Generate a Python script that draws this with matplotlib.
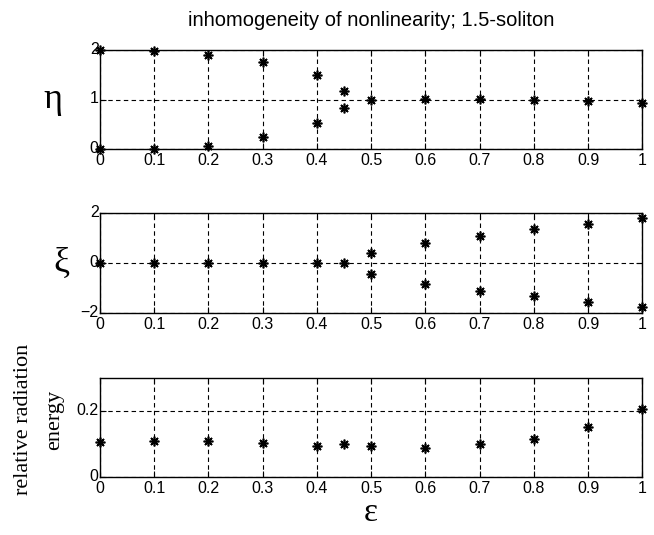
import numpy as np
import matplotlib
matplotlib.use("Agg")
import matplotlib.pyplot as plt
import matplotlib.transforms as mtransforms

# epsilon values (x axis), 0.45 is an extra point
eps = [0, 0.1, 0.2, 0.3, 0.4, 0.45, 0.5, 0.6, 0.7, 0.8, 0.9, 1.0]

# eta: two branches below eps=0.5, then one
eta_eps_split = [0, 0.1, 0.2, 0.3, 0.4, 0.45]
eta_upper = [2.0, 1.98, 1.90, 1.75, 1.49, 1.17]
eta_lower = [0.0, 0.01, 0.07, 0.24, 0.52, 0.83]
eta_eps_single = [0.5, 0.6, 0.7, 0.8, 0.9, 1.0]
eta_single = [1.00, 1.02, 1.02, 0.99, 0.96, 0.92]

# xi: zero up to 0.45, then splits
xi_eps_zero = [0, 0.1, 0.2, 0.3, 0.4, 0.45]
xi_zero = [0, 0, 0, 0, 0, 0]
xi_eps_split = [0.5, 0.6, 0.7, 0.8, 0.9, 1.0]
xi_upper = [0.41, 0.79, 1.08, 1.35, 1.55, 1.81]
xi_lower = [-0.44, -0.84, -1.11, -1.31, -1.55, -1.77]

# relative radiation energy
rad = [0.107, 0.109, 0.109, 0.104, 0.095, 0.102, 0.096, 0.088, 0.100, 0.117, 0.152, 0.206]

xticks = [0, 0.1, 0.2, 0.3, 0.4, 0.5, 0.6, 0.7, 0.8, 0.9, 1]
xticklabels = ["0", "0.1", "0.2", "0.3", "0.4", "0.5", "0.6", "0.7", "0.8", "0.9", "1"]

plt.rcParams["font.family"] = ["Liberation Sans", "DejaVu Sans"]
serif = ["Liberation Serif", "DejaVu Serif"]

fig = plt.figure(figsize=(6.54, 5.35), dpi=100)
left, width = 0.153, 0.829
ax1 = fig.add_axes([left, 0.7215, width, 0.185])
ax2 = fig.add_axes([left, 0.415, width, 0.187])
ax3 = fig.add_axes([left, 0.108, width, 0.185])

mk = dict(marker=(8, 2, 0), linestyle="none", color="black", markersize=7,
          markeredgewidth=1.2, clip_on=False, zorder=5)


def style(ax, ylim, yticks, yticklabels):
    ax.set_xlim(0, 1)
    ax.set_ylim(*ylim)
    ax.set_xticks(xticks)
    ax.set_xticklabels(xticklabels)
    ax.set_yticks(yticks)
    ax.set_yticklabels(yticklabels)
    ax.tick_params(direction="in", length=4, width=0.8, top=True, right=True,
                   labelsize=11.5, colors="black")
    ax.tick_params(axis="x", pad=3)
    ax.tick_params(axis="y", pad=1)
    # nudge y tick labels up a little, like the original
    shift = mtransforms.ScaledTranslation(0, 1.5 / 72, fig.dpi_scale_trans)
    for lab in ax.get_yticklabels():
        lab.set_transform(lab.get_transform() + shift)
    ax.grid(True, color="black", linestyle=(0, (4, 3)), linewidth=0.8)
    for s in ax.spines.values():
        s.set_linewidth(1.0)


ax1.plot(eta_eps_split, eta_upper, **mk)
ax1.plot(eta_eps_split, eta_lower, **mk)
ax1.plot(eta_eps_single, eta_single, **mk)
style(ax1, (0, 2), [0, 1, 2], ["0", "1", "2"])
ax1.set_ylabel("η", family=serif, fontsize=26, rotation=0, va="center")
ax1.yaxis.set_label_coords(-0.087, 0.5)
ax1.set_title("inhomogeneity of nonlinearity; 1.5-soliton", fontsize=14.5, pad=17)

ax2.plot(xi_eps_zero, xi_zero, **mk)
ax2.plot(xi_eps_split, xi_upper, **mk)
ax2.plot(xi_eps_split, xi_lower, **mk)
style(ax2, (-2, 2), [-2, 0, 2], ["−2", "0", "2"])
ax2.set_ylabel("ξ", family=serif, fontsize=26, rotation=0, va="center")
ax2.yaxis.set_label_coords(-0.072, 0.5)

ax3.plot(eps, rad, **mk)
style(ax3, (0, 0.3), [0, 0.2], ["0", "0.2"])
ax3.set_ylabel("relative radiation\nenergy", family=serif, fontsize=16, linespacing=1.9)
ax3.yaxis.set_label_coords(-0.066, 0.58)
ax3.set_xlabel("ε", family=serif, fontsize=24, labelpad=1)

fig.savefig("out.png", dpi=100, facecolor="white")
